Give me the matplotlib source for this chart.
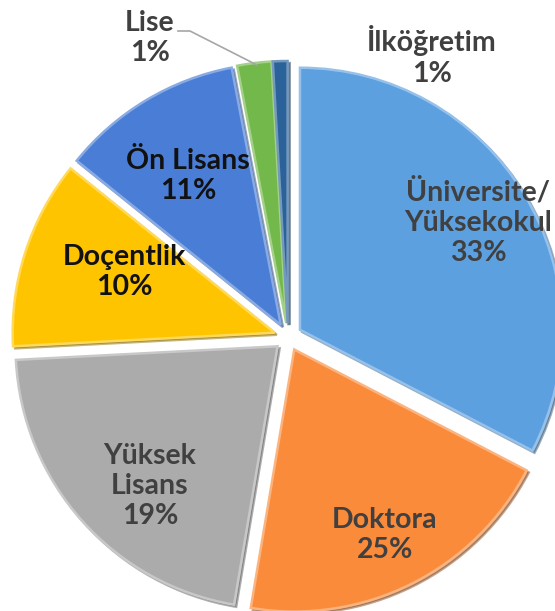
import matplotlib.pyplot as plt
from matplotlib.colors import to_rgb

categories = ["Üniversite/\nYüksekokul", "Doktora", "Yüksek\nLisans", "Doçentlik",
              "Ön Lisans", "Lise", "İlköğretim"]
pct_labels = ["33%", "25%", "19%", "10%", "11%", "1%", "1%"]
# slice sizes as they are drawn (the printed % do not quite match the angles)
slice_share = [32.6, 20.0, 21.5, 11.6, 11.2, 2.1, 0.9]
colors = ["#5DA0E0", "#F98B3B", "#ABABAB", "#FFC400", "#4A7ED6", "#72B84A", "#2A6299"]

W, H = 555, 611
fig = plt.figure(figsize=(W / 100, H / 100), dpi=100)
ax = fig.add_axes([0, 0, 1, 1])

R = 262
cx, cy = 288, H - 337


def lighter(c, f):
    r, g, b = to_rgb(c)
    return (r + (1 - r) * f, g + (1 - g) * f, b + (1 - b) * f)


# explode is in data units here (pixels)
wedges, _ = ax.pie(slice_share, colors=colors, startangle=90, counterclock=False,
                   radius=R, center=(cx, cy), explode=[14] * len(slice_share),
                   frame=True,
                   shadow={"ox": 1.5, "oy": -1.5, "shade": 0.45},
                   wedgeprops=dict(linewidth=1.8))
for w, c in zip(wedges, colors):
    w.set_edgecolor(lighter(c, 0.35))

ax.set_xlim(0, W)
ax.set_ylim(0, H)
ax.set_aspect("equal")
ax.axis("off")

# label positions (pixel centre of each text block)
label_pos = [(478, 222), (385, 535), (150, 486), (124, 272), (188, 176), (150, 38), (432, 56)]
text_col = ["#404040", "#404040", "#404040", "#111111", "#111111", "#404040", "#404040"]

for name, pct, (x, y), tc in zip(categories, pct_labels, label_pos, text_col):
    ax.text(x, H - y, name + "\n" + pct, ha="center", va="center",
            fontsize=20.5, fontweight="bold", color=tc,
            family=["Lato", "DejaVu Sans"], linespacing=1.2)

# leader line for "Lise"
ax.plot([178, 190, 257], [H - 31, H - 31, H - 65], color="#A6A6A6", lw=1.2)

fig.savefig("out.png", dpi=100)
